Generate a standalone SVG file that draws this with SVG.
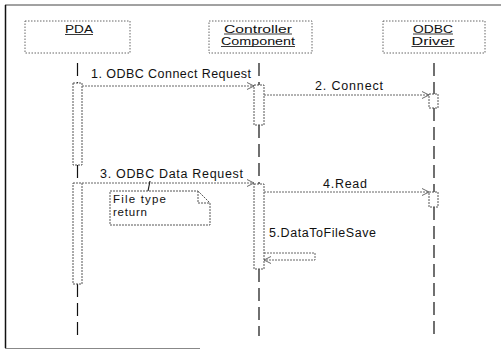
<svg xmlns="http://www.w3.org/2000/svg" width="502" height="350" viewBox="0 0 502 350">
  <defs>
    <marker id="open" viewBox="0 0 10 10" refX="9" refY="5" markerWidth="8" markerHeight="8" markerUnits="userSpaceOnUse" orient="auto">
      <path d="M0,0.5 L9,5 L0,9.5" fill="none" stroke="#555" stroke-width="1.1"/>
    </marker>
    <style>
      .obj { fill: #fff; stroke: #666; stroke-width: 1; stroke-dasharray: 1.5 1.5; }
      .act { fill: #fff; stroke: #555; stroke-width: 1; stroke-dasharray: 2 1; }
      .life { stroke: #111; stroke-width: 1.2; stroke-dasharray: 13 6; fill: none; }
      .msg { stroke: #666; stroke-width: 1; stroke-dasharray: 2 1; fill: none; marker-end: url(#open); }
      .note { fill: #fff; stroke: #555; stroke-width: 1; stroke-dasharray: 2 1; }
      .ul { stroke: #222; stroke-width: 0.9; }
      text { font-family: "Liberation Sans", Arial, sans-serif; font-size: 12.5px; fill: #111; }
      .name { font-size: 11.5px; text-anchor: middle; }
      .small { font-size: 11.5px; }
    </style>
  </defs>

  <rect width="502" height="350" fill="#fff"/>

  <!-- frame -->
  <g id="frame" fill="none">
    <line x1="5" y1="5" x2="501" y2="5" stroke="#444" stroke-width="1"/>
    <line x1="5.5" y1="5" x2="5.5" y2="348" stroke="#111" stroke-width="1.5"/>
    <line x1="5" y1="348.5" x2="200" y2="348.5" stroke="#888" stroke-width="1"/>
  </g>

  <!-- lifelines -->
  <g id="lifelines">
    <path class="life" d="M77.5,63 V83 M77.5,165 V183 M77.5,284 V336"/>
    <path class="life" d="M259,63 V85 M259,125 V184 M259,269 V336"/>
    <path class="life" d="M434,63 V94 M434,108 V192 M434,207 V337"/>
  </g>

  <!-- objects -->
  <g id="pda">
    <rect class="obj" x="25" y="21" width="105" height="32"/>
    <text class="name" x="79" y="33" textLength="28" lengthAdjust="spacingAndGlyphs">PDA</text>
    <line class="ul" x1="65" y1="34.5" x2="93" y2="34.5"/>
  </g>
  <g id="controller">
    <rect class="obj" x="209" y="21" width="103" height="32"/>
    <text class="name" x="258" y="32.5" textLength="68" lengthAdjust="spacingAndGlyphs">Controller</text>
    <line class="ul" x1="224" y1="34" x2="292" y2="34"/>
    <text class="name" x="258" y="45" textLength="74" lengthAdjust="spacingAndGlyphs">Component</text>
    <line class="ul" x1="221" y1="46.5" x2="295" y2="46.5"/>
  </g>
  <g id="odbc-driver">
    <rect class="obj" x="383" y="21" width="102" height="32"/>
    <text class="name" x="433" y="32.5" textLength="40" lengthAdjust="spacingAndGlyphs">ODBC</text>
    <line class="ul" x1="413" y1="34" x2="453" y2="34"/>
    <text class="name" x="433" y="45" textLength="43" lengthAdjust="spacingAndGlyphs">Driver</text>
    <line class="ul" x1="411.5" y1="46.5" x2="454.5" y2="46.5"/>
  </g>

  <!-- activations -->
  <g id="activations">
    <rect class="act" x="73" y="83" width="9" height="82"/>
    <rect class="act" x="73" y="183" width="9" height="101"/>
    <rect class="act" x="254" y="85" width="10" height="40"/>
    <rect class="act" x="254" y="184" width="10" height="85"/>
    <rect class="act" x="429" y="94" width="9" height="14"/>
    <rect class="act" x="429" y="192" width="9" height="15"/>
  </g>

  <!-- messages -->
  <g id="connectors">
    <line class="msg" x1="82" y1="86" x2="254" y2="86"/>
    <line class="msg" x1="264" y1="95" x2="429" y2="95"/>
    <line class="msg" x1="82" y1="183" x2="254" y2="183"/>
    <line class="msg" x1="264" y1="192" x2="429" y2="192"/>
    <path class="msg" d="M264,253 H315 V260 H264"/>
    <line x1="150" y1="181" x2="148" y2="191" stroke="#222" stroke-width="1.2"/>
  </g>

  <g id="labels">
    <text x="91" y="78" textLength="160">1. ODBC Connect Request</text>
    <text x="315" y="90" textLength="68">2. Connect</text>
    <text x="100" y="178" textLength="143">3. ODBC Data Request</text>
    <text x="323" y="188" textLength="44">4.Read</text>
    <text x="269" y="237" textLength="107">5.DataToFileSave</text>
  </g>

  <!-- note -->
  <g id="note-file-type">
    <path class="note" d="M110,191 H198 L210,203 V225 H110 Z"/>
    <path d="M198,191 V203 H210" fill="none" stroke="#555" stroke-width="1" stroke-dasharray="2 1"/>
    <text class="small" x="113" y="203" textLength="53">File type</text>
    <text class="small" x="113" y="216" textLength="34">return</text>
  </g>
</svg>
